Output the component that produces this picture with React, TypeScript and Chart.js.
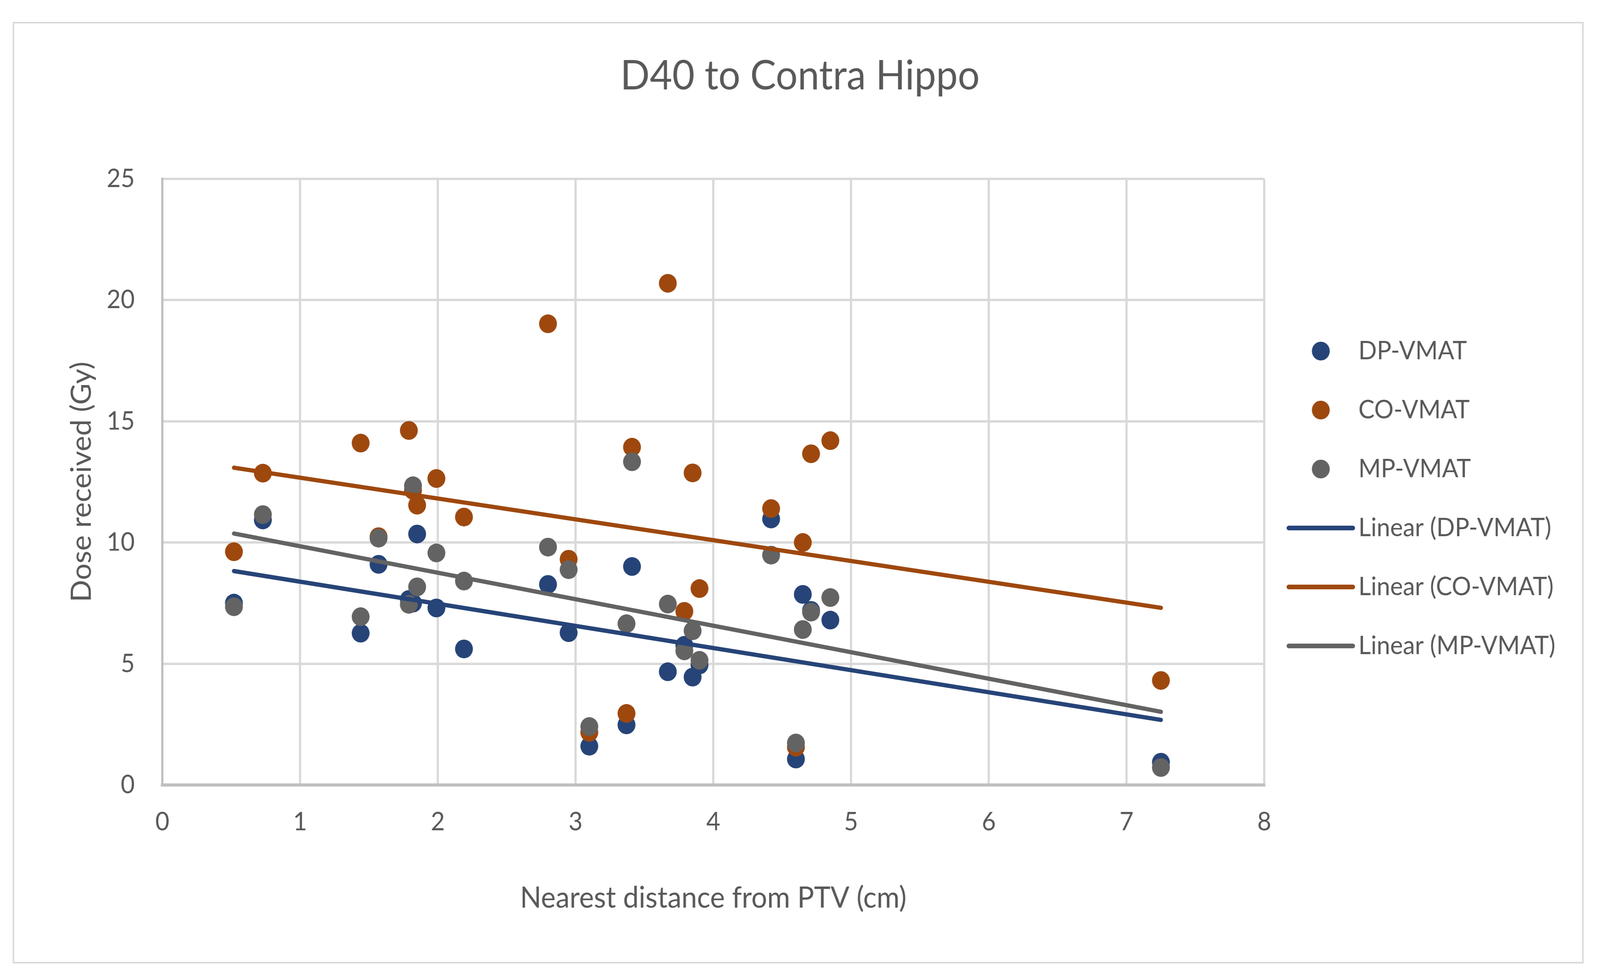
import React, { useEffect, useRef } from "react";
import { Chart, registerables } from "chart.js";

Chart.register(...registerables);

// ---------- data ----------
const chartTitle = "D40 to Contra Hippo";
const xAxisTitle = "Nearest distance from PTV (cm)";
const yAxisTitle = "Dose received (Gy)";
const seriesNames = ["DP-VMAT", "CO-VMAT", "MP-VMAT"];

const distances = [0.52, 0.73, 1.44, 1.57, 1.79, 1.82, 1.85, 1.99, 2.19, 2.8, 2.95, 3.1, 3.37, 3.41, 3.67, 3.79, 3.85, 3.9, 4.42, 4.6, 4.65, 4.71, 4.85, 7.25];
const dpVmat = [7.5, 10.93, 6.26, 9.1, 7.65, 7.5, 10.35, 7.3, 5.61, 8.27, 6.28, 1.6, 2.48, 9.01, 4.67, 5.76, 4.45, 4.95, 10.97, 1.07, 7.86, 7.2, 6.8, 0.94];
const coVmat = [9.62, 12.86, 14.1, 10.24, 14.62, 12.15, 11.54, 12.64, 11.05, 19.02, 9.31, 2.17, 2.95, 13.93, 20.69, 7.16, 12.87, 8.1, 11.4, 1.56, 10.0, 13.66, 14.2, 4.31];
const mpVmat = [7.35, 11.15, 6.94, 10.18, 7.45, 12.34, 8.17, 9.57, 8.41, 9.81, 8.88, 2.41, 6.65, 13.33, 7.46, 5.53, 6.36, 5.14, 9.48, 1.73, 6.41, 7.13, 7.73, 0.72];

const xMin = 0;
const xMax = 8;
const xStep = 1;
const yMin = 0;
const yMax = 25;
const yStep = 5;

// ---------- styles ----------
const CANVAS_W = 4298;
const CANVAS_H = 2494;
const FONT = "Lato, 'Open Sans', sans-serif";
const TEXT = "#595959";
const COLORS = ["#264478", "#9E480E", "#636363"];

function linearFit(xs: number[], ys: number[]) {
  const n = xs.length;
  const mx = xs.reduce((a, b) => a + b, 0) / n;
  const my = ys.reduce((a, b) => a + b, 0) / n;
  let sxy = 0;
  let sxx = 0;
  for (let i = 0; i < n; i++) {
    sxy += (xs[i] - mx) * (ys[i] - my);
    sxx += (xs[i] - mx) * (xs[i] - mx);
  }
  const b = sxy / sxx;
  const a = my - b * mx;
  const x0 = Math.min(...xs);
  const x1 = Math.max(...xs);
  return [
    { x: x0, y: a + b * x0 },
    { x: x1, y: a + b * x1 },
  ];
}

const framePlugin = {
  id: "frame",
  beforeDraw(chart: any) {
    const { ctx, width, height } = chart;
    ctx.save();
    ctx.fillStyle = "#ffffff";
    ctx.fillRect(0, 0, width, height);
    ctx.strokeStyle = "#D9D9D9";
    ctx.lineWidth = 4;
    ctx.strokeRect(36, 58, 4216, 2407);
    ctx.restore();
  },
};

const sideLegendPlugin = {
  id: "sideLegend",
  afterDraw(chart: any, _args: any, opts: any) {
    const { ctx } = chart;
    const area = chart.chartArea;
    const markerX = area.right + opts.markerOffset;
    const textX = area.right + opts.textOffset;
    ctx.save();
    ctx.font = `${opts.fontSize}px ${FONT}`;
    ctx.textBaseline = "middle";
    ctx.textAlign = "left";
    chart.data.datasets.forEach((ds: any, i: number) => {
      const y = opts.firstY + i * opts.rowGap;
      if (ds.showLine) {
        ctx.beginPath();
        ctx.moveTo(markerX - opts.lineLen / 2, y);
        ctx.lineTo(markerX + opts.lineLen / 2, y);
        ctx.strokeStyle = ds.borderColor;
        ctx.lineWidth = opts.lineWidth;
        ctx.lineCap = "round";
        ctx.stroke();
      } else {
        ctx.beginPath();
        ctx.arc(markerX, y, opts.markerRadius, 0, Math.PI * 2);
        ctx.fillStyle = ds.backgroundColor;
        ctx.fill();
      }
      ctx.fillStyle = TEXT;
      ctx.fillText(ds.label, textX, y);
    });
    ctx.restore();
  },
};

export default function App() {
  const canvasRef = useRef<HTMLCanvasElement | null>(null);
  const viewW = typeof window !== "undefined" ? Math.min(window.innerWidth || CANVAS_W, CANVAS_W) : CANVAS_W;
  const viewH = typeof window !== "undefined" ? Math.min(window.innerHeight || CANVAS_H, CANVAS_H) : CANVAS_H;

  useEffect(() => {
    document.body.style.margin = "0";
    document.body.style.overflow = "hidden";
    let chart: Chart | null = null;
    let cancelled = false;

    const build = () => {
      if (cancelled || !canvasRef.current) return;
      const seriesValues = [dpVmat, coVmat, mpVmat];
      const pointSets = seriesValues.map((vals, i) => ({
        type: "scatter" as const,
        label: seriesNames[i],
        data: distances.map((x, j) => ({ x, y: vals[j] })),
        backgroundColor: COLORS[i],
        borderColor: COLORS[i],
        pointRadius: 24,
        pointHoverRadius: 24,
        pointBorderWidth: 0,
        borderWidth: 0,
        showLine: false,
        order: 6 - i,
      }));
      const trendSets = seriesValues.map((vals, i) => ({
        type: "scatter" as const,
        label: `Linear (${seriesNames[i]})`,
        data: linearFit(distances, vals),
        borderColor: COLORS[i],
        backgroundColor: COLORS[i],
        borderWidth: 11,
        borderCapStyle: "round" as const,
        pointRadius: 0,
        pointHoverRadius: 0,
        showLine: true,
        order: 3 - i,
      }));

      chart = new Chart(canvasRef.current, {
        type: "scatter",
        data: { datasets: [...pointSets, ...trendSets] as any },
        plugins: [framePlugin, sideLegendPlugin],
        options: {
          animation: false,
          responsive: false,
          devicePixelRatio: 1,
          layout: { padding: 0 },
          plugins: {
            legend: { display: false },
            tooltip: { enabled: false },
            title: {
              display: true,
              text: chartTitle,
              color: TEXT,
              font: { family: FONT, size: 104, weight: "normal" },
              padding: { top: 133, bottom: 200 },
            },
            sideLegend: {
              markerOffset: 152,
              textOffset: 253,
              firstY: 899,
              rowGap: 151,
              markerRadius: 24,
              lineLen: 172,
              lineWidth: 12,
              fontSize: 65,
            },
          } as any,
          scales: {
            x: {
              type: "linear",
              min: xMin,
              max: xMax,
              ticks: {
                stepSize: xStep,
                color: TEXT,
                font: { family: FONT, size: 65 },
                padding: 56,
              },
              grid: { color: "#D9D9D9", lineWidth: 6, drawTicks: false },
              border: { color: "#BFBFBF", width: 8 },
              title: {
                display: true,
                text: xAxisTitle,
                color: TEXT,
                font: { family: FONT, size: 75 },
                padding: { top: 0, bottom: 149 },
              },
              afterFit: (s: any) => {
                s.height = 484;
              },
            },
            y: {
              type: "linear",
              min: yMin,
              max: yMax,
              ticks: {
                stepSize: yStep,
                color: TEXT,
                font: { family: FONT, size: 65 },
                padding: 74,
              },
              grid: { color: "#D9D9D9", lineWidth: 6, drawTicks: false },
              border: { color: "#BFBFBF", width: 6 },
              title: {
                display: true,
                text: yAxisTitle,
                color: TEXT,
                font: { family: FONT, size: 75 },
                padding: { top: 175, bottom: 0 },
              },
              afterFit: (s: any) => {
                s.width = 436;
              },
            },
            legendSpace: {
              type: "linear",
              position: "right",
              display: true,
              grid: { display: false },
              ticks: { display: false },
              border: { display: false },
              afterFit: (s: any) => {
                s.width = 902;
              },
            },
          } as any,
        },
      });
    };

    const fontsReady = (document as any).fonts
      ? Promise.all([
          (document as any).fonts.load(`65px Lato`),
          (document as any).fonts.load(`104px Lato`),
        ]).catch(() => null)
      : Promise.resolve(null);
    fontsReady.then(build);

    return () => {
      cancelled = true;
      if (chart) chart.destroy();
    };
  }, []);

  return (
    <div style={{ width: viewW, height: viewH, overflow: "hidden" }}>
      <canvas
        ref={canvasRef}
        width={CANVAS_W}
        height={CANVAS_H}
        style={{ display: "block", width: `${viewW}px`, height: `${viewH}px` }}
      />
    </div>
  );
}
